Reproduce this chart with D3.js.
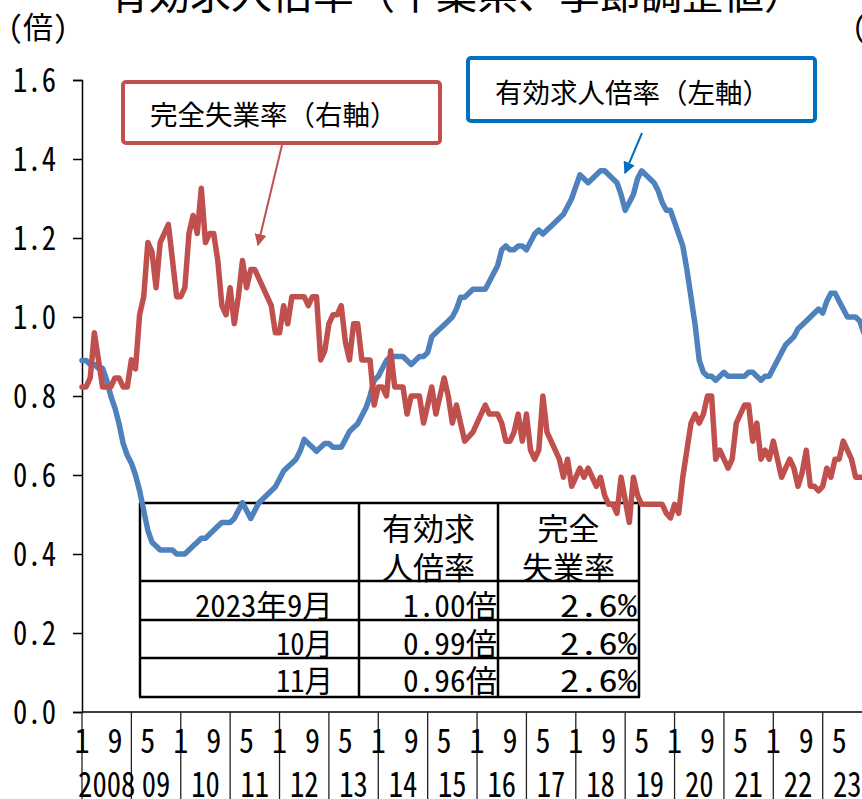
<!DOCTYPE html>
<meta charset="utf-8">
<head>
<style>
  body { margin: 0; background: #fff; }
  svg { display: block; }
  .jp { font-family: "Noto Sans Mono CJK JP", "Noto Sans CJK JP", sans-serif; fill: #000; }
</style>
</head>
<body>
<svg id="chart" width="862" height="799"></svg>
<script src="https://cdn.jsdelivr.net/npm/d3@7"></script>
<script>
// 有効求人倍率 (left axis, 倍), monthly Jan 2008 - Nov 2023
var jobRatio = [
  0.89,0.89,0.88,0.88,0.87,0.87,0.84,0.80,0.77,0.73,0.68,0.65,
  0.63,0.60,0.56,0.51,0.46,0.43,0.42,0.41,0.41,0.41,0.41,0.40,
  0.40,0.40,0.41,0.42,0.43,0.44,0.44,0.45,0.46,0.47,0.48,0.48,
  0.48,0.49,0.51,0.53,0.51,0.49,0.51,0.53,0.54,0.55,0.56,0.57,
  0.59,0.61,0.62,0.63,0.64,0.66,0.69,0.68,0.67,0.66,0.67,0.68,
  0.68,0.67,0.67,0.67,0.69,0.71,0.72,0.73,0.75,0.77,0.80,0.84,
  0.85,0.87,0.89,0.90,0.90,0.90,0.90,0.89,0.88,0.89,0.90,0.90,
  0.91,0.95,0.96,0.97,0.98,0.99,1.00,1.02,1.05,1.05,1.06,1.07,
  1.07,1.07,1.07,1.09,1.11,1.13,1.17,1.18,1.17,1.17,1.18,1.18,
  1.17,1.19,1.21,1.22,1.21,1.22,1.23,1.24,1.25,1.26,1.28,1.30,
  1.33,1.36,1.35,1.34,1.35,1.36,1.37,1.37,1.36,1.35,1.34,1.31,
  1.27,1.29,1.31,1.35,1.37,1.36,1.35,1.34,1.32,1.29,1.27,1.27,
  1.24,1.21,1.18,1.12,1.05,0.98,0.89,0.86,0.85,0.85,0.84,0.85,
  0.86,0.85,0.85,0.85,0.85,0.85,0.86,0.86,0.85,0.84,0.85,0.85,
  0.87,0.89,0.91,0.93,0.94,0.95,0.97,0.98,0.99,1.00,1.01,1.02,
  1.01,1.04,1.06,1.06,1.04,1.02,1.00,1.00,1.00,0.99,0.96
];
// 完全失業率 (right axis, %)
var unemployment = [
  3.6,3.6,3.7,4.2,3.9,3.6,3.6,3.6,3.7,3.7,3.6,3.6,
  3.9,3.8,4.4,4.6,5.2,5.1,4.7,5.2,5.3,5.4,5.0,4.6,
  4.6,4.7,5.3,5.5,5.3,5.8,5.2,5.3,5.3,5.0,4.5,4.4,
  4.7,4.3,4.6,5.0,4.7,4.9,4.9,4.8,4.7,4.6,4.5,4.2,
  4.2,4.5,4.3,4.6,4.6,4.6,4.6,4.5,4.6,4.6,3.9,4.0,
  4.3,4.4,4.4,4.5,4.1,3.9,4.3,4.3,3.9,3.9,3.9,3.4,
  3.6,3.6,3.5,4.0,3.6,3.6,3.6,3.3,3.5,3.5,3.5,3.2,
  3.4,3.6,3.3,3.5,3.7,3.5,3.2,3.4,3.2,3.0,3.05,3.1,
  3.2,3.3,3.4,3.3,3.3,3.3,3.2,3.0,3.0,3.1,3.3,3.0,
  3.3,2.9,2.8,2.9,3.5,3.1,3.0,2.9,2.8,2.6,2.8,2.5,
  2.6,2.7,2.6,2.7,2.6,2.5,2.6,2.4,2.3,2.3,2.2,2.6,
  2.35,2.1,2.6,2.4,2.3,2.3,2.3,2.3,2.3,2.3,2.2,2.15,
  2.3,2.2,2.6,2.9,3.2,3.3,3.2,3.3,3.5,3.5,2.8,2.9,
  2.8,2.7,2.8,3.2,3.3,3.4,3.4,3.0,3.2,2.8,2.9,2.8,
  3.0,2.8,2.6,2.7,2.8,2.7,2.5,2.65,2.9,2.5,2.5,2.45,
  2.5,2.7,2.6,2.8,2.8,3.0,2.9,2.8,2.6,2.6,2.6
];
var yearLabels = ["2008","09","10","11","12","13","14","15","16","17","18","19","20","21","22","23"];
var leftTicks = [0, 0.2, 0.4, 0.6, 0.8, 1.0, 1.2, 1.4, 1.6];
var tableHead = [["有効求","人倍率"], ["完全","失業率"]];
var tableRows = [
  ["2023年9月", "1.00倍", "2.6%"],
  ["10月", "0.99倍", "2.6%"],
  ["11月", "0.96倍", "2.6%"]
];

// month categories
var months = [];
for (var i = 0; i < jobRatio.length; i++) {
  months.push({ idx: i, year: 2008 + Math.floor(i / 12), month: (i % 12) + 1 });
}

var svg = d3.select("#chart");
var x = d3.scaleLinear().domain([0, 190]).range([82, 82 + 190 * 4.115]);
var y = d3.scaleLinear().domain([0, 1.6]).range([712, 80]);
var y2 = d3.scaleLinear().domain([0, 7]).range([712, 80]);
var fam = '"Noto Sans Mono CJK JP", "Noto Sans CJK JP", sans-serif';

// title (cut off at top), units
svg.append("text").attr("class", "jp").attr("x", 108).attr("y", 9)
  .attr("font-size", 41).text("有効求人倍率（千葉県、季節調整値）");
svg.append("text").attr("class", "jp").attr("x", 8).attr("y", 38)
  .attr("font-size", 30).text("(倍)");
svg.append("text").attr("class", "jp").attr("x", 852).attr("y", 38)
  .attr("font-size", 30).text("(%)");

// left axis
var yAxis = svg.append("g").attr("transform", "translate(82,0)")
  .call(d3.axisLeft(y).tickValues(leftTicks).tickSize(9).tickPadding(17)
    .tickFormat(d3.format(".1f")));
yAxis.select(".domain").attr("stroke", "#000").attr("stroke-width", 1.5);
yAxis.selectAll(".tick line").attr("stroke", "#000").attr("stroke-width", 1.5);
yAxis.selectAll("text").attr("font-family", fam).attr("font-size", 33).attr("fill", "#000")
  .attr("textLength", 43).attr("lengthAdjust", "spacingAndGlyphs").attr("dy", "0.36em");

// x axis line
svg.append("line").attr("x1", 82).attr("x2", 880).attr("y1", 712).attr("y2", 712)
  .attr("stroke", "#000").attr("stroke-width", 1.5);

// year dividers
var jan = months.filter(function(d) { return d.month === 1; });
svg.selectAll(".div").data(jan).enter().append("line")
  .attr("x1", function(d) { return x(d.idx); }).attr("x2", function(d) { return x(d.idx); })
  .attr("y1", 712).attr("y2", 799).attr("stroke", "#222").attr("stroke-width", 1.3);

// month labels every 8 months
var mt = months.filter(function(d) { return d.idx % 8 === 0; });
svg.selectAll(".mlab").data(mt).enter().append("text")
  .attr("font-family", fam).attr("font-size", 34).attr("text-anchor", "middle")
  .attr("x", function(d) { return x(d.idx); }).attr("y", 753)
  .attr("textLength", 15).attr("lengthAdjust", "spacingAndGlyphs")
  .text(function(d) { return d.month; });

// year labels
svg.selectAll(".ylab").data(jan).enter().append("text")
  .attr("font-family", fam).attr("font-size", 35).attr("text-anchor", "middle")
  .attr("x", function(d) { return x(d.idx + 6); }).attr("y", 797)
  .attr("textLength", function(d, i) { return yearLabels[i].length * 14.3; })
  .attr("lengthAdjust", "spacingAndGlyphs")
  .text(function(d, i) { return yearLabels[i]; });

// table
var colX = [140, 359, 498, 639];
var rowY = [503, 581, 620, 658, 697];
var tg = svg.append("g");
colX.forEach(function(cx) {
  tg.append("line").attr("x1", cx).attr("x2", cx).attr("y1", rowY[0]).attr("y2", rowY[4])
    .attr("stroke", "#000").attr("stroke-width", 2.5);
});
rowY.forEach(function(ry) {
  tg.append("line").attr("x1", colX[0] - 1).attr("x2", colX[3] + 1).attr("y1", ry).attr("y2", ry)
    .attr("stroke", "#000").attr("stroke-width", 2.5);
});
tableHead.forEach(function(h, c) {
  var cx = (colX[c + 1] + colX[c + 2]) / 2;
  h.forEach(function(t, k) {
    tg.append("text").attr("class", "jp").attr("font-size", 31).attr("text-anchor", "middle")
      .attr("x", cx).attr("y", 540 + k * 39).text(t);
  });
});
var rowBase = [617, 655, 692];
var cellW = [[138, 57, 57], [94, 94, 94], [77, 77, 77]];
tableRows.forEach(function(r, ri) {
  r.forEach(function(t, c) {
    var right = [333, 497, 637][c];
    tg.append("text").attr("class", "jp").attr("font-size", 31).attr("text-anchor", "end")
      .attr("x", right).attr("y", rowBase[ri])
      .attr("textLength", cellW[c][ri]).attr("lengthAdjust", "spacingAndGlyphs").text(t);
  });
});

// lines
var lineL = d3.line().x(function(d, i) { return x(i); }).y(function(d) { return y(d); });
var lineR = d3.line().x(function(d, i) { return x(i); }).y(function(d) { return y2(d); });
svg.append("path").datum(jobRatio).attr("d", lineL).attr("fill", "none")
  .attr("stroke", "#4F81BD").attr("stroke-width", 5.5).attr("stroke-linejoin", "round").attr("stroke-linecap", "round");
svg.append("path").datum(unemployment).attr("d", lineR).attr("fill", "none")
  .attr("stroke", "#C0504D").attr("stroke-width", 5.5).attr("stroke-linejoin", "round").attr("stroke-linecap", "round");

// annotation boxes and arrows
var defs = svg.append("defs");
[["arR", "#C0504D"], ["arB", "#0070C0"]].forEach(function(m) {
  defs.append("marker").attr("id", m[0]).attr("viewBox", "0 0 10 10").attr("refX", 9).attr("refY", 5)
    .attr("markerWidth", 6).attr("markerHeight", 6).attr("orient", "auto")
    .append("path").attr("d", "M0,0 L10,5 L0,10 Z").attr("fill", m[1]);
});
svg.append("rect").attr("x", 123).attr("y", 82).attr("width", 317).attr("height", 61).attr("rx", 3)
  .attr("fill", "#fff").attr("stroke", "#C0504D").attr("stroke-width", 4);
svg.append("text").attr("class", "jp").attr("x", 150).attr("y", 125).attr("font-size", 27.5)
  .text("完全失業率（右軸）");
svg.append("line").attr("x1", 282).attr("y1", 145).attr("x2", 258).attr("y2", 245)
  .attr("stroke", "#C0504D").attr("stroke-width", 2).attr("marker-end", "url(#arR)");

svg.append("rect").attr("x", 468).attr("y", 58).attr("width", 347).attr("height", 63).attr("rx", 3)
  .attr("fill", "#fff").attr("stroke", "#0070C0").attr("stroke-width", 4);
svg.append("text").attr("class", "jp").attr("x", 495).attr("y", 103).attr("font-size", 27.5)
  .text("有効求人倍率（左軸）");
svg.append("line").attr("x1", 642).attr("y1", 133).attr("x2", 625).attr("y2", 173)
  .attr("stroke", "#0070C0").attr("stroke-width", 2).attr("marker-end", "url(#arB)");
</script>
</body>
</html>
